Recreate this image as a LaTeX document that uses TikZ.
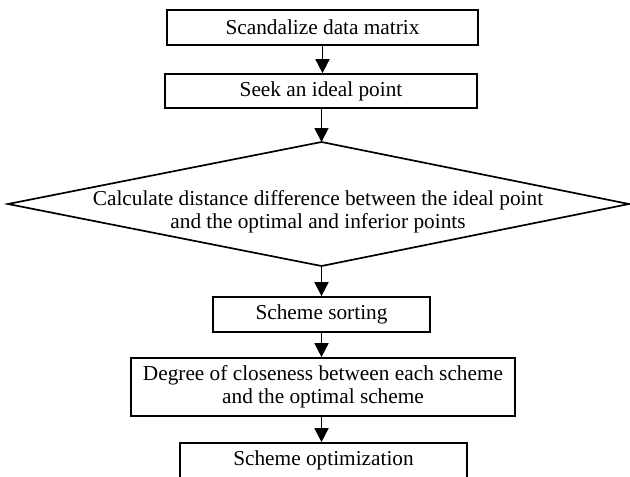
\documentclass[tikz,border=0pt]{standalone}
\usepackage{fontspec}
\setmainfont{Liberation Serif}
\usetikzlibrary{arrows.meta}
\tikzset{
  lbl/.style={align=center,font=\fontsize{21.3}{23}\selectfont,inner sep=0pt},
  stepbox/.style={lbl,draw,line width=1.7pt,rectangle},
  arr/.style={line width=1.7pt,-{Triangle[length=14pt,width=14pt]}},
  edge/.style={line width=1.7pt,line join=miter}
}
\begin{document}
\begin{tikzpicture}[x=1pt,y=-1pt]
\useasboundingbox (0,0) rectangle (630,477);
\clip (0,0) rectangle (630,477);
\node[stepbox,minimum width=311pt,minimum height=35pt] (b1) at (322.5,27.5) {Scandalize data matrix};
\node[stepbox,minimum width=312pt,minimum height=34pt] (b2) at (321,91) {Seek an ideal point};
\coordinate (dT) at (321.5,142);
\coordinate (dL) at (8,204);
\coordinate (dR) at (629,204);
\coordinate (dB) at (321.5,266);
\draw[edge] (dL) -- (dT) -- (dR) -- (dB) -- cycle;
\node[lbl] (d) at (318,212) {Calculate distance difference between the ideal point\\and the optimal and inferior points};
\node[stepbox,minimum width=217pt,minimum height=35pt] (b3) at (321.5,314.5) {Scheme sorting};
\node[stepbox,minimum width=384pt,minimum height=58pt] (b4) at (323,387) {Degree of closeness between each scheme\\and the optimal scheme};
\node[stepbox,minimum width=287pt,minimum height=35pt] (b5) at (323.5,460.5) {Scheme optimization};
\draw[arr] (b1.south) -- (b1.south |- b2.north);
\draw[arr] (b2.south -| dT) -- (dT);
\draw[arr] (dB) -- (dB |- b3.north);
\draw[arr] (b3.south) -- (b3.south |- b4.north);
\draw[arr] (b4.south -| b3.south) -- (b3.south |- b5.north);
\end{tikzpicture}
\end{document}
